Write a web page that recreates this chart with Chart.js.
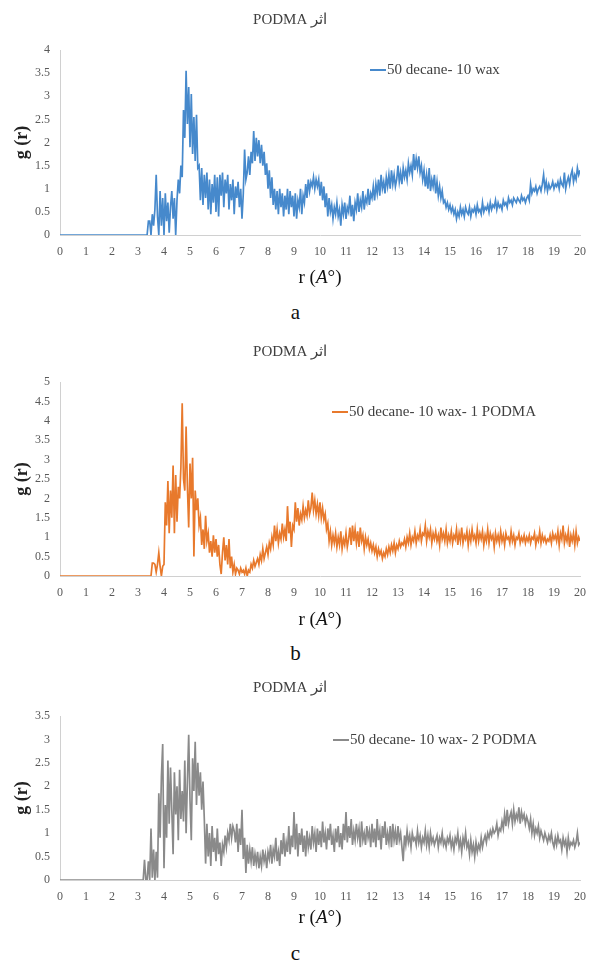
<!DOCTYPE html>
<html>
<head>
<meta charset="utf-8">
<script src="https://cdn.jsdelivr.net/npm/chart.js@4.4.0/dist/chart.umd.min.js"></script>
<style>
    body { margin: 0; background: #fff; width: 591px; height: 962px; position: relative; overflow: hidden; font-family: "Liberation Serif", serif; }
    .box { position: absolute; left: 0; width: 591px; }
    .cap { position: absolute; left: 0; width: 591px; text-align: center; font-size: 21px; line-height: 24px; color: #111; }
</style>
</head>
<body>
<div class="box" style="top:0px"><canvas id="chartA" width="591" height="292"></canvas></div>
<div class="cap" style="top:300px">a</div>
<div class="box" style="top:330px"><canvas id="chartB" width="591" height="305"></canvas></div>
<div class="cap" style="top:641px">b</div>
<div class="box" style="top:665px"><canvas id="chartC" width="591" height="270"></canvas></div>
<div class="cap" style="top:941px">c</div>

<script>
// r grid (Angstrom): 0 .. 20 in steps of 0.05, one row = 1 Angstrom
var rStart = 0;
var rStep = 0.05;

var chartTitle = 'PODMA اثر';
var labelA = '50 decane- 10 wax';
var labelB = '50 decane- 10 wax- 1 PODMA';
var labelC = '50 decane- 10 wax- 2 PODMA';

var gA = [
    0, 0, 0, 0, 0, 0, 0, 0, 0, 0, 0, 0, 0, 0, 0, 0, 0, 0, 0, 0,
    0, 0, 0, 0, 0, 0, 0, 0, 0, 0, 0, 0, 0, 0, 0, 0, 0, 0, 0, 0,
    0, 0, 0, 0, 0, 0, 0, 0, 0, 0, 0, 0, 0, 0, 0, 0, 0, 0, 0, 0,
    0, 0, 0, 0, 0, 0, 0, 0, 0.3, 0.3, 0, 0.45, 0.2, 0.55, 1.3, 0.4, 0, 0.95, 0.2, 0.8,
    0, 0.9, 0.3, 0.7, 0.05, 0.6, 0.95, 0.35, 0.8, 0, 0.75, 1.2, 0.9, 1.5, 1.25, 2.7, 2.1, 3.55, 2.4, 3.2,
    1.9, 3.05, 1.75, 2.55, 1.6, 2.6, 1.45, 1.5, 0.75, 1.45, 0.65, 1.3, 0.8, 1.35, 0.55, 1.2, 0.45, 1.1, 0.7, 1.3,
    0.5, 1.25, 0.4, 1.3, 0.85, 1.35, 0.6, 1.2, 0.9, 1.3, 0.55, 1.1, 0.75, 1.2, 0.45, 1.05, 0.8, 1.15, 0.6, 1.0,
    0.35, 0.9, 1.85, 1.2, 1.35, 1.7, 1.3, 1.8, 1.55, 2.25, 1.6, 2.1, 1.7, 2.05, 1.55, 1.95, 1.5, 1.8, 1.3, 1.55,
    1.0, 1.4, 0.8, 1.25, 0.65, 1.0, 0.55, 0.95, 0.45, 1.0, 0.6, 0.9, 0.4, 0.85, 0.55, 1.0, 0.45, 0.95, 0.6, 0.85,
    0.4, 0.9, 0.35, 0.75, 0.6, 1.0, 0.45, 0.85, 0.7, 1.1, 0.8, 1.2, 0.95, 1.15, 1.05, 1.25, 1.0, 1.2, 1.05, 1.2,
    0.85, 1.15, 0.75, 1.05, 0.6, 0.9, 0.4, 0.8, 0.5, 0.65, 0.35, 0.6, 0.45, 0.7, 0.4, 0.55, 0.2, 0.65, 0.45, 0.7,
    0.35, 0.6, 0.5, 0.85, 0.4, 0.65, 0.3, 0.7, 0.55, 0.9, 0.5, 0.75, 0.6, 0.95, 0.55, 0.8, 0.7, 1.0, 0.65, 0.9,
    0.8, 1.05, 0.75, 1.1, 0.9, 1.2, 0.85, 1.3, 1.0, 1.15, 0.9, 1.25, 1.05, 1.3, 1.0, 1.4, 1.1, 1.3, 1.05, 1.2,
    1.5, 1.15, 1.35, 1.1, 1.45, 1.25, 1.4, 1.2, 1.55, 1.35, 1.5, 1.3, 1.75, 1.4, 1.65, 1.45, 1.7, 1.35, 1.5, 1.2,
    1.4, 1.05, 1.3, 1.0, 1.45, 0.95, 1.2, 1.05, 1.3, 0.9, 1.15, 0.85, 1.05, 0.8, 0.95, 0.7, 0.75, 0.6, 0.7, 0.55,
    0.65, 0.5, 0.6, 0.45, 0.55, 0.35, 0.5, 0.4, 0.6, 0.45, 0.55, 0.4, 0.6, 0.5, 0.45, 0.6, 0.4, 0.55, 0.5, 0.6,
    0.45, 0.65, 0.5, 0.55, 0.45, 0.7, 0.5, 0.6, 0.55, 0.65, 0.5, 0.7, 0.55, 0.65, 0.6, 0.75, 0.55, 0.7, 0.6, 0.65,
    0.55, 0.75, 0.65, 0.7, 0.6, 0.8, 0.7, 0.75, 0.65, 0.8, 0.75, 0.7, 0.8, 0.75, 0.7, 0.85, 0.75, 0.8, 0.7, 0.8,
    0.85, 0.75, 1.1, 0.9, 1.0, 0.95, 1.05, 0.9, 1.0, 1.05, 0.95, 1.1, 1.3, 1.0, 1.15, 0.95, 1.1, 1.0, 1.05, 1.15,
    1.0, 1.1, 1.05, 1.15, 1.0, 1.2, 1.1, 1.05, 1.35, 1.0, 1.15, 1.25, 1.1, 1.3, 1.4, 1.15, 1.3, 1.2, 1.45, 1.3,
    1.4
];

var gB = [
    0, 0, 0, 0, 0, 0, 0, 0, 0, 0, 0, 0, 0, 0, 0, 0, 0, 0, 0, 0,
    0, 0, 0, 0, 0, 0, 0, 0, 0, 0, 0, 0, 0, 0, 0, 0, 0, 0, 0, 0,
    0, 0, 0, 0, 0, 0, 0, 0, 0, 0, 0, 0, 0, 0, 0, 0, 0, 0, 0, 0,
    0, 0, 0, 0, 0, 0, 0, 0, 0, 0, 0, 0.33, 0.33, 0.3, 0.1, 0.3, 0.6, 0.25, 0, 0.25,
    0.3, 1.9, 1.3, 2.45, 1.1, 2.2, 1.5, 2.85, 1.1, 2.6, 1.4, 2.3, 2.0, 2.8, 4.45, 2.5, 2.2, 3.85, 2.3, 1.25,
    2.9, 2.0, 3.05, 0.5, 2.2, 1.7, 2.0, 1.3, 1.5, 0.8, 1.2, 0.7, 1.55, 0.9, 1.1, 0.6, 0.9, 0.5, 1.05, 0.6,
    0.95, 0.5, 0.8, 0.3, 0.05, 0.6, 1.0, 0.4, 0.8, 0.3, 0.95, 0.2, 0.5, 0.1, 0.3, 0.05, 0.2, 0.15, 0.05, 0.2,
    0.1, 0.15, 0.05, 0.2, 0, 0.15, 0.1, 0.3, 0.2, 0.4, 0.25, 0.35, 0.45, 0.3, 0.55, 0.4, 0.7, 0.45, 0.6, 0.75,
    0.55, 0.85, 0.7, 1.0, 0.8, 1.3, 0.9, 1.2, 0.85, 1.1, 0.95, 1.35, 1.0, 1.2, 0.9, 1.8, 1.1, 1.4, 0.75, 1.3,
    1.2, 1.9, 1.4, 1.75, 1.3, 1.6, 1.45, 1.8, 1.5, 1.7, 1.55, 1.95, 1.6, 1.75, 2.15, 1.7, 1.95, 1.6, 1.85, 1.55,
    1.9, 1.5, 1.75, 1.45, 1.6, 1.2, 1.35, 0.9, 1.15, 0.8, 1.05, 0.85, 1.1, 0.75, 1.0, 0.8, 1.15, 0.7, 0.95, 0.8,
    1.1, 0.75, 0.95, 1.25, 0.8, 1.3, 0.9, 1.2, 0.85, 1.15, 0.75, 1.25, 0.9, 1.05, 0.7, 1.0, 0.8, 0.95, 0.7, 0.85,
    0.65, 0.8, 0.6, 0.75, 0.5, 0.7, 0.55, 0.65, 0.45, 0.6, 0.5, 0.7, 0.55, 0.75, 0.6, 0.8, 0.65, 0.85, 0.6, 0.8,
    0.7, 0.9, 0.75, 0.85, 0.8, 0.95, 0.75, 1.0, 0.85, 1.1, 0.8, 1.0, 0.9, 1.15, 0.85, 1.05, 0.95, 1.2, 0.9, 1.1,
    1.05, 1.3, 0.9, 1.15, 1.0, 1.2, 0.85, 1.1, 0.95, 1.15, 0.9, 1.05, 0.8, 1.25, 0.95, 1.1, 0.9, 1.2, 0.85, 1.05,
    0.9, 1.15, 0.85, 1.05, 0.95, 1.2, 0.8, 1.1, 0.9, 1.25, 0.85, 1.05, 0.95, 1.15, 0.8, 1.1, 0.9, 1.2, 0.95, 1.05,
    0.85, 1.2, 0.9, 1.1, 0.95, 1.15, 0.8, 1.05, 0.9, 1.2, 0.85, 1.1, 0.95, 1.05, 0.75, 1.1, 0.9, 1.05, 0.85, 1.15,
    0.9, 1.05, 0.8, 1.1, 0.95, 1.0, 0.85, 1.15, 0.9, 1.05, 0.8, 1.0, 0.95, 1.1, 0.85, 1.0, 0.9, 1.05, 0.85, 1.0,
    0.9, 1.05, 0.85, 1.0, 0.95, 1.1, 0.8, 1.0, 0.9, 1.15, 0.85, 1.05, 0.9, 1.0, 0.85, 0.95, 0.9, 1.05, 0.85, 1.1,
    0.95, 1.05, 0.9, 1.15, 0.8, 1.1, 0.95, 1.3, 0.85, 1.05, 0.9, 1.15, 0.75, 1.05, 0.9, 1.1, 0.8, 1.15, 0.85, 1.0,
    0.9
];

var gC = [
    0, 0, 0, 0, 0, 0, 0, 0, 0, 0, 0, 0, 0, 0, 0, 0, 0, 0, 0, 0,
    0, 0, 0, 0, 0, 0, 0, 0, 0, 0, 0, 0, 0, 0, 0, 0, 0, 0, 0, 0,
    0, 0, 0, 0, 0, 0, 0, 0, 0, 0, 0, 0, 0, 0, 0, 0, 0, 0, 0, 0,
    0, 0, 0, 0, 0, 0.43, 0, 0, 0.4, 0, 1.1, 0.05, 0.65, 0, 0.6, 0.05, 1.85, 0.9, 2.2, 2.9,
    0.25, 1.6, 0.9, 2.55, 1.2, 2.4, 1.5, 0.55, 2.3, 1.4, 2.0, 0.85, 2.35, 1.3, 1.9, 1.25, 2.55, 1.0, 2.1, 3.1,
    1.7, 0.85, 2.6, 1.9, 2.95, 1.6, 2.5, 1.8, 2.3, 1.5, 2.1, 1.3, 0.35, 1.2, 0.5, 1.0, 0.3, 1.15, 0.6, 0.9,
    0.4, 1.1, 0.55, 0.8, 0.3, 0.75, 0.6, 0.95, 0.7, 1.0, 0.85, 1.2, 0.9, 1.15, 1.05, 0.8, 1.2, 0.6, 1.1, 0.75,
    1.5, 0.45, 0.9, 0.15, 0.75, 0.35, 0.65, 0.4, 0.7, 0.3, 0.55, 0.35, 0.6, 0.25, 0.5, 0.3, 0.65, 0.4, 0.55, 0.25,
    0.6, 0.45, 0.75, 0.35, 0.65, 0.5, 0.9, 0.4, 0.6, 0.3, 0.85, 0.55, 1.0, 0.5, 0.8, 0.6, 1.15, 0.55, 0.95, 0.7,
    1.45, 0.65, 1.2, 0.5, 1.0, 0.75, 1.1, 0.6, 0.95, 0.5, 1.05, 0.7, 0.9, 0.65, 1.15, 0.8, 1.0, 0.6, 1.1, 0.75,
    1.05, 0.7, 1.25, 0.8, 1.0, 0.65, 1.1, 0.85, 1.2, 0.75, 0.95, 0.6, 1.1, 0.8, 1.15, 0.7, 1.0, 0.65, 1.2, 0.85,
    1.45, 0.8, 1.15, 0.9, 1.3, 0.75, 1.05, 0.85, 1.2, 0.9, 1.1, 0.7, 1.25, 0.85, 1.0, 0.75, 1.15, 0.9, 1.05, 0.7,
    1.2, 0.8, 1.1, 0.7, 1.3, 0.85, 1.05, 0.65, 1.15, 0.9, 1.25, 0.75, 1.0, 0.8, 1.15, 0.7, 1.2, 0.85, 1.05, 0.75,
    1.15, 0.85, 1.0, 0.7, 0.4, 0.95, 0.75, 1.05, 0.8, 0.95, 0.7, 1.0, 0.85, 0.9, 0.75, 1.05, 0.8, 0.95, 0.7, 0.9,
    0.8, 1.05, 0.75, 0.95, 0.7, 1.0, 0.8, 0.9, 0.75, 0.85, 0.95, 0.7, 0.9, 0.8, 1.0, 0.75, 0.85, 0.7, 0.9, 0.8,
    0.95, 0.7, 0.85, 0.65, 0.9, 0.8, 1.0, 0.7, 0.85, 0.6, 0.9, 0.75, 1.0, 0.7, 0.8, 0.55, 0.85, 0.6, 0.75, 0.5,
    0.8, 0.6, 0.75, 0.65, 0.9, 0.7, 0.85, 0.95, 0.8, 1.0, 0.9, 1.05, 0.95, 1.1, 1.0, 1.05, 1.2, 0.95, 1.1, 1.05,
    1.25, 1.1, 1.4, 1.15, 1.5, 1.2, 1.35, 1.45, 1.2, 1.5, 1.25, 1.4, 1.3, 1.55, 1.2, 1.45, 1.3, 1.4, 1.2, 1.35,
    1.25, 1.1, 1.3, 1.0, 1.2, 0.95, 1.1, 1.0, 1.15, 0.9, 1.05, 0.95, 0.85, 1.0, 0.9, 0.8, 0.95, 0.85, 1.0, 0.8,
    0.7, 0.9, 0.75, 0.95, 0.8, 0.85, 0.65, 0.9, 0.75, 0.85, 0.6, 0.9, 0.7, 0.8, 0.75, 0.85, 0.7, 0.8, 1.0, 0.75,
    0.8
];

var serif = '"Liberation Serif", "Times New Roman", serif';

function toPoints(vals) {
    return vals.map(function(v, i) {
        return { x: +(rStart + i * rStep).toFixed(2), y: v };
    });
}

// legend inside the plot + x axis title with italic A
var decor = {
    id: 'decor',
    afterDraw: function(chart, args, opts) {
        var ctx = chart.ctx;
        var area = chart.chartArea;
        var ds = chart.data.datasets[0];
        ctx.save();

        var ly = area.top + opts.legendDy;
        ctx.strokeStyle = ds.borderColor;
        ctx.lineWidth = 2;
        ctx.beginPath();
        ctx.moveTo(opts.legendX, ly);
        ctx.lineTo(opts.legendX + 16, ly);
        ctx.stroke();
        ctx.font = '15px ' + serif;
        ctx.fillStyle = '#404040';
        ctx.textBaseline = 'middle';
        ctx.textAlign = 'left';
        ctx.fillText(ds.label, opts.legendX + 17, ly);

        var parts = [['r (', ''], ['A', 'italic '], ['°)', '']];
        var total = 0;
        parts.forEach(function(p) {
            ctx.font = p[1] + '19px ' + serif;
            total += ctx.measureText(p[0]).width;
        });
        var x = (area.left + area.right) / 2 - total / 2;
        var y = area.bottom + opts.titleDy;
        ctx.fillStyle = '#111';
        parts.forEach(function(p) {
            ctx.font = p[1] + '19px ' + serif;
            ctx.fillText(p[0], x, y);
            x += ctx.measureText(p[0]).width;
        });
        ctx.restore();
    }
};

function makeChart(id, label, vals, color, yMax, lay) {
    var ctx = document.getElementById(id).getContext('2d');
    return new Chart(ctx, {
        type: 'line',
        data: {
            datasets: [{
                label: label,
                data: toPoints(vals),
                borderColor: color,
                borderWidth: 1.7,
                pointRadius: 0,
                tension: 0,
                fill: false
            }]
        },
        options: {
            responsive: false,
            animation: false,
            layout: { padding: { left: 0, right: 11, top: 0, bottom: 0 } },
            plugins: {
                legend: { display: false },
                tooltip: { enabled: false },
                title: {
                    display: true,
                    text: chartTitle,
                    color: '#404040',
                    font: { family: serif, size: 15, weight: 'normal' },
                    padding: { top: lay.titleTop, bottom: lay.titleBottom }
                },
                decor: { legendX: lay.legendX, legendDy: lay.legendDy, titleDy: lay.xTitleDy }
            },
            scales: {
                x: {
                    type: 'linear',
                    min: 0,
                    max: 20,
                    grid: { display: false, drawTicks: false },
                    border: { display: true, color: '#d0d0d0', width: 1 },
                    ticks: { stepSize: 1, color: '#595959', padding: 10, maxRotation: 0, font: { family: serif, size: 12 } },
                    afterFit: function(s) {
                        s.height = lay.xHeight;
                        s.paddingLeft = 0;
                        s.paddingRight = 0;
                    }
                },
                y: {
                    min: 0,
                    max: yMax,
                    grid: { display: false, drawTicks: false },
                    border: { display: true, color: '#d0d0d0', width: 1 },
                    ticks: {
                        stepSize: 0.5,
                        color: '#595959',
                        padding: 10,
                        font: { family: serif, size: 12 },
                        callback: function(v) { return String(v); }
                    },
                    title: {
                        display: true,
                        text: 'g (r)',
                        color: '#222',
                        font: { family: serif, size: 18, weight: 'bold' },
                        padding: { top: 12, bottom: 0 }
                    },
                    afterFit: function(s) { s.width = 60; }
                }
            }
        },
        plugins: [decor]
    });
}

makeChart('chartA', labelA, gA, '#4689cc', 4,
    { titleTop: 11, titleBottom: 21, legendX: 370, legendDy: 20, xTitleDy: 43, xHeight: 57 });
makeChart('chartB', labelB, gB, '#e8792c', 5,
    { titleTop: 13, titleBottom: 21, legendX: 332, legendDy: 30, xTitleDy: 44, xHeight: 59 });
makeChart('chartC', labelC, gC, '#8a8a8a', 3.5,
    { titleTop: 14, titleBottom: 19, legendX: 333, legendDy: 24, xTitleDy: 38, xHeight: 55 });
</script>
</body>
</html>
